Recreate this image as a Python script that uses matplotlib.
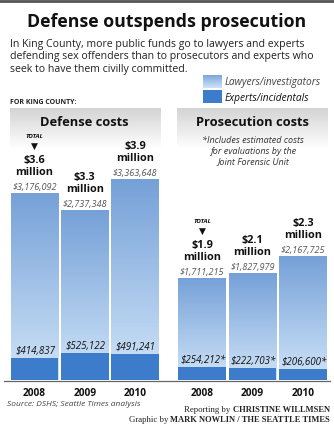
import numpy as np
import matplotlib.pyplot as plt
from matplotlib.colors import LinearSegmentedColormap
from matplotlib.lines import Line2D

years = ['2008', '2009', '2010']
defense_lawyers = [3176092, 2737348, 3363648]
defense_experts = [414837, 525122, 491241]
defense_totals = ['$3.6', '$3.3', '$3.9']
prosec_lawyers = [1711215, 1827979, 2167725]
prosec_experts = [254212, 222703, 206600]
prosec_totals = ['$1.9', '$2.1', '$2.3']

W, H = 334, 425
LIGHT_TOP = '#76a1d8'
LIGHT_BOT = '#cfe4f8'
DARK = '#3d7cca'
bar_cmap = LinearSegmentedColormap.from_list('bar', [LIGHT_BOT, LIGHT_TOP])
head_cmap = LinearSegmentedColormap.from_list('head', ['#ffffff', '#d4d4d4'])
grad = np.linspace(0, 1, 64).reshape(-1, 1)

plt.rcParams['font.family'] = ['Open Sans', 'DejaVu Sans']

fig = plt.figure(figsize=(W / 100, H / 100), dpi=100)


def ftext(x, y, s, **kw):
    return fig.text(x / W, 1 - y / H, s, **kw)


def px_axes(x0, x1, y0, y1):
    return fig.add_axes([x0 / W, 1 - y1 / H, (x1 - x0) / W, (y1 - y0) / H])


def panel(x0, x1, title, lawyers, experts, totals, star):
    ax = px_axes(x0, x1, 108, 380)
    ax.set_xlim(-0.5, 2.5)
    ax.set_ylim(0, 5.22e6)
    ax.axis('off')
    # header gradient
    ax.imshow(grad, cmap=head_cmap, extent=(0, 1, 0.85, 1), transform=ax.transAxes,
              aspect='auto', origin='lower', zorder=0)
    ax.text(0.5, 0.948, title, transform=ax.transAxes, ha='center', va='center',
            fontsize=9.3, fontweight='bold', color='#111')
    x = np.arange(len(years))
    tops = np.array(lawyers) + np.array(experts)
    bars = ax.bar(x, tops, width=0.95, color='none', edgecolor='none', zorder=2)
    for b in bars:
        im = ax.imshow(grad, cmap=bar_cmap, aspect='auto', origin='lower', zorder=1,
                       extent=(b.get_x(), b.get_x() + b.get_width(), 0, b.get_height()))
        im.set_clip_path(b)
    ax.bar(x, experts, width=0.95, color=DARK, zorder=3)
    for i in range(len(years)):
        ax.annotate('${:,}'.format(lawyers[i]), (x[i], tops[i]), xytext=(0, 1),
                    textcoords='offset pixels', ha='center', va='bottom',
                    fontsize=6.6, style='italic', color='#555', zorder=4)
        ax.annotate('${:,}'.format(experts[i]) + star, (x[i], experts[i]), xytext=(1, 1),
                    textcoords='offset pixels', ha='center', va='bottom',
                    fontsize=7, style='italic', color='#111', zorder=4)
        ax.annotate(totals[i] + '\nmillion', (x[i], tops[i]), xytext=(0, 15),
                    textcoords='offset pixels', ha='center', va='bottom',
                    fontsize=7.8, fontweight='bold', color='#111',
                    linespacing=1.1, zorder=4)
        ax.text(x[i], -0.028, years[i], transform=ax.get_xaxis_transform(),
                ha='center', va='top', fontsize=7.3, fontweight='bold', color='#111')
    # TOTAL marker on first bar
    ax.annotate('TOTAL', (x[0], tops[0]), xytext=(0, 56), textcoords='offset pixels',
                ha='center', va='center', fontsize=4.6, style='italic',
                fontweight='bold', color='#111')
    ax.annotate('\u25BC', (x[0], tops[0]), xytext=(0, 46), textcoords='offset pixels',
                ha='center', va='center', fontsize=6.5, color='#111')
    return ax


def credit(y, plain, bold):
    r = fig.canvas.get_renderer()
    t = ftext(330, y, bold, ha='right', va='center', fontsize=6.1,
              family='Liberation Serif', fontweight='bold', color='#222')
    left = t.get_window_extent(r).x0
    fig.text(left / W, 1 - y / H, plain + ' ', ha='right', va='center', fontsize=6.3,
             family='Liberation Serif', color='#222')


# top rule
fig.add_artist(Line2D([0, 1], [1 - 1 / H, 1 - 1 / H], color='#555', lw=2))

ftext(W / 2, 22, 'Defense outspends prosecution', ha='center', va='center',
      fontsize=12.8, fontweight='bold', color='#111')
ftext(10, 38.5, 'In King County, more public funds go to lawyers and experts\n'
      'defending sex offenders than to prosecutors and experts who\n'
      'seek to have them civilly committed.', ha='left', va='top',
      fontsize=7.6, color='#222', linespacing=1.2)

# legend
lax = px_axes(203, 222, 75, 103)
lax.axis('off')
lax.imshow(grad, cmap=bar_cmap, extent=(0, 1, 1.07, 2), aspect='auto', origin='lower')
lax.bar(0.5, 0.93, width=1, color=DARK)
lax.set_xlim(0, 1)
lax.set_ylim(0, 2)
ftext(225, 82, 'Lawyers/investigators', ha='left', va='center', fontsize=7.3,
      style='italic', color='#444')
ftext(225, 99, 'Experts/incidentals', ha='left', va='center', fontsize=7.3,
      style='italic', color='#111')

ftext(10, 103, 'FOR KING COUNTY:', ha='left', va='center', fontsize=5,
      fontweight='bold', color='#222')

panel(9.5, 160, 'Defense costs', defense_lawyers, defense_experts, defense_totals, '')
panel(177, 328, 'Prosecution costs', prosec_lawyers, prosec_experts, prosec_totals, '*')
ftext(253, 151, '*Includes estimated costs\nfor evaluations by the\nJoint Forensic Unit',
      ha='center', va='center', fontsize=6.5, style='italic', color='#333',
      linespacing=1.2)

# baseline
fig.add_artist(Line2D([4 / W, 330 / W], [1 - 380.5 / H] * 2, color='#666', lw=0.9))

ftext(7, 405, 'Source: DSHS; Seattle Times analysis', ha='left', va='center',
      fontsize=6, style='italic', color='#444')
credit(410, 'Reporting by', 'CHRISTINE WILLMSEN')
credit(420, 'Graphic by', 'MARK NOWLIN / THE SEATTLE TIMES')

fig.savefig('out.png', dpi=100)
